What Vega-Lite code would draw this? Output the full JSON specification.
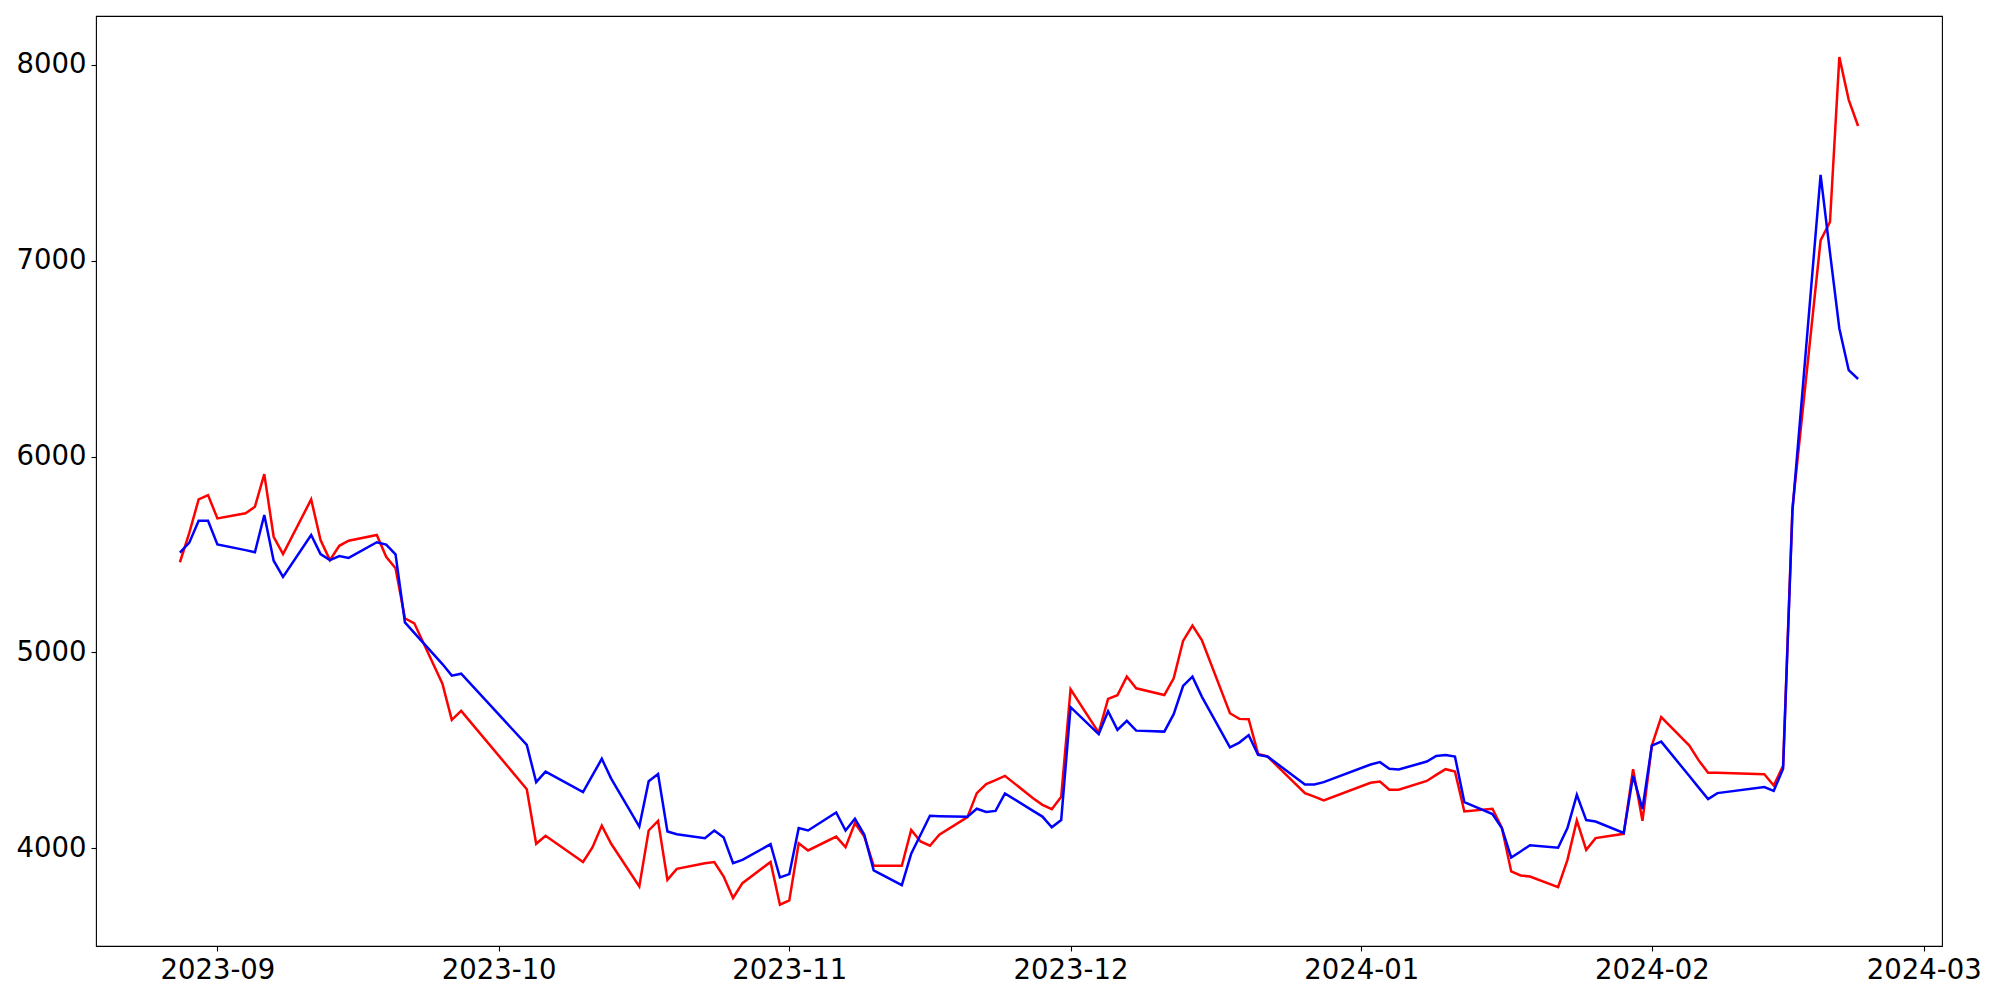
{
  "$schema": "https://vega.github.io/schema/vega-lite/v6.json",
  "width": 1846,
  "height": 930,
  "autosize": "none",
  "padding": {"left": 96, "top": 16, "right": 58, "bottom": 54},
  "background": "white",
  "config": {
    "view": {"stroke": "black", "strokeWidth": 1.1},
    "axis": {
      "domain": false,
      "grid": false,
      "ticks": true,
      "tickSize": 5,
      "tickWidth": 1.1,
      "tickColor": "black",
      "labelFont": "DejaVu Sans",
      "labelFontSize": 27.5,
      "labelColor": "black",
      "labelPadding": 5,
      "title": null
    }
  },
  "data": {
    "values": [
      {"date": "2023-08-28", "red": 5460, "blue": 5509},
      {"date": "2023-08-29", "red": 5610, "blue": 5560},
      {"date": "2023-08-30", "red": 5781, "blue": 5672},
      {"date": "2023-08-31", "red": 5803, "blue": 5672},
      {"date": "2023-09-01", "red": 5684, "blue": 5551},
      {"date": "2023-09-04", "red": 5710, "blue": 5522},
      {"date": "2023-09-05", "red": 5743, "blue": 5511},
      {"date": "2023-09-06", "red": 5910, "blue": 5701},
      {"date": "2023-09-07", "red": 5590, "blue": 5468},
      {"date": "2023-09-08", "red": 5502, "blue": 5385},
      {"date": "2023-09-11", "red": 5781, "blue": 5599},
      {"date": "2023-09-12", "red": 5573, "blue": 5502},
      {"date": "2023-09-13", "red": 5471, "blue": 5471},
      {"date": "2023-09-14", "red": 5544, "blue": 5492},
      {"date": "2023-09-15", "red": 5570, "blue": 5482},
      {"date": "2023-09-18", "red": 5599, "blue": 5562},
      {"date": "2023-09-19", "red": 5488, "blue": 5550},
      {"date": "2023-09-20", "red": 5429, "blue": 5500},
      {"date": "2023-09-21", "red": 5174, "blue": 5153},
      {"date": "2023-09-22", "red": 5148, "blue": 5099},
      {"date": "2023-09-25", "red": 4840, "blue": 4940},
      {"date": "2023-09-26", "red": 4655, "blue": 4881},
      {"date": "2023-09-27", "red": 4701, "blue": 4891},
      {"date": "2023-10-04", "red": 4301, "blue": 4527},
      {"date": "2023-10-05", "red": 4022, "blue": 4337},
      {"date": "2023-10-06", "red": 4063, "blue": 4391},
      {"date": "2023-10-10", "red": 3929, "blue": 4286},
      {"date": "2023-10-11", "red": 4003, "blue": 4371},
      {"date": "2023-10-12", "red": 4115, "blue": 4456},
      {"date": "2023-10-13", "red": 4022, "blue": 4355},
      {"date": "2023-10-16", "red": 3804, "blue": 4110},
      {"date": "2023-10-17", "red": 4090, "blue": 4342},
      {"date": "2023-10-18", "red": 4139, "blue": 4378},
      {"date": "2023-10-19", "red": 3838, "blue": 4085},
      {"date": "2023-10-20", "red": 3894, "blue": 4071},
      {"date": "2023-10-23", "red": 3923, "blue": 4051},
      {"date": "2023-10-24", "red": 3929, "blue": 4090},
      {"date": "2023-10-25", "red": 3855, "blue": 4054},
      {"date": "2023-10-26", "red": 3745, "blue": 3923},
      {"date": "2023-10-27", "red": 3821, "blue": 3940},
      {"date": "2023-10-30", "red": 3929, "blue": 4020},
      {"date": "2023-10-31", "red": 3711, "blue": 3850},
      {"date": "2023-11-01", "red": 3733, "blue": 3867},
      {"date": "2023-11-02", "red": 4025, "blue": 4102},
      {"date": "2023-11-03", "red": 3988, "blue": 4090},
      {"date": "2023-11-06", "red": 4059, "blue": 4182},
      {"date": "2023-11-07", "red": 4005, "blue": 4090},
      {"date": "2023-11-08", "red": 4128, "blue": 4150},
      {"date": "2023-11-09", "red": 4059, "blue": 4068},
      {"date": "2023-11-10", "red": 3910, "blue": 3886},
      {"date": "2023-11-13", "red": 3910, "blue": 3811},
      {"date": "2023-11-14", "red": 4093, "blue": 3971},
      {"date": "2023-11-15", "red": 4034, "blue": 4068},
      {"date": "2023-11-16", "red": 4012, "blue": 4165},
      {"date": "2023-11-17", "red": 4068, "blue": 4163},
      {"date": "2023-11-20", "red": 4158, "blue": 4160},
      {"date": "2023-11-21", "red": 4281, "blue": 4201},
      {"date": "2023-11-22", "red": 4327, "blue": 4185},
      {"date": "2023-11-23", "red": 4347, "blue": 4190},
      {"date": "2023-11-24", "red": 4369, "blue": 4279},
      {"date": "2023-11-27", "red": 4255, "blue": 4190},
      {"date": "2023-11-28", "red": 4221, "blue": 4161},
      {"date": "2023-11-29", "red": 4199, "blue": 4106},
      {"date": "2023-11-30", "red": 4262, "blue": 4143},
      {"date": "2023-12-01", "red": 4811, "blue": 4720},
      {"date": "2023-12-04", "red": 4590, "blue": 4582},
      {"date": "2023-12-05", "red": 4762, "blue": 4699},
      {"date": "2023-12-06", "red": 4781, "blue": 4604},
      {"date": "2023-12-07", "red": 4876, "blue": 4650},
      {"date": "2023-12-08", "red": 4816, "blue": 4600},
      {"date": "2023-12-11", "red": 4782, "blue": 4595},
      {"date": "2023-12-12", "red": 4867, "blue": 4684},
      {"date": "2023-12-13", "red": 5058, "blue": 4828},
      {"date": "2023-12-14", "red": 5136, "blue": 4876},
      {"date": "2023-12-15", "red": 5063, "blue": 4774},
      {"date": "2023-12-18", "red": 4689, "blue": 4515},
      {"date": "2023-12-19", "red": 4660, "blue": 4539},
      {"date": "2023-12-20", "red": 4658, "blue": 4577},
      {"date": "2023-12-21", "red": 4481, "blue": 4476},
      {"date": "2023-12-22", "red": 4468, "blue": 4468},
      {"date": "2023-12-26", "red": 4281, "blue": 4325},
      {"date": "2023-12-27", "red": 4263, "blue": 4325},
      {"date": "2023-12-28", "red": 4243, "blue": 4337},
      {"date": "2024-01-02", "red": 4334, "blue": 4427},
      {"date": "2024-01-03", "red": 4340, "blue": 4439},
      {"date": "2024-01-04", "red": 4298, "blue": 4405},
      {"date": "2024-01-05", "red": 4298, "blue": 4402},
      {"date": "2024-01-08", "red": 4343, "blue": 4442},
      {"date": "2024-01-09", "red": 4374, "blue": 4471},
      {"date": "2024-01-10", "red": 4403, "blue": 4476},
      {"date": "2024-01-11", "red": 4391, "blue": 4468},
      {"date": "2024-01-12", "red": 4187, "blue": 4235},
      {"date": "2024-01-15", "red": 4201, "blue": 4174},
      {"date": "2024-01-16", "red": 4105, "blue": 4102},
      {"date": "2024-01-17", "red": 3881, "blue": 3952},
      {"date": "2024-01-18", "red": 3860, "blue": 3983},
      {"date": "2024-01-19", "red": 3855, "blue": 4015},
      {"date": "2024-01-22", "red": 3801, "blue": 4002},
      {"date": "2024-01-23", "red": 3940, "blue": 4102},
      {"date": "2024-01-24", "red": 4141, "blue": 4272},
      {"date": "2024-01-25", "red": 3991, "blue": 4143},
      {"date": "2024-01-26", "red": 4051, "blue": 4136},
      {"date": "2024-01-29", "red": 4073, "blue": 4077},
      {"date": "2024-01-30", "red": 4403, "blue": 4369},
      {"date": "2024-01-31", "red": 4139, "blue": 4200},
      {"date": "2024-02-01", "red": 4524, "blue": 4524},
      {"date": "2024-02-02", "red": 4669, "blue": 4544},
      {"date": "2024-02-05", "red": 4524, "blue": 4368},
      {"date": "2024-02-06", "red": 4448, "blue": 4309},
      {"date": "2024-02-07", "red": 4385, "blue": 4250},
      {"date": "2024-02-08", "red": 4385, "blue": 4281},
      {"date": "2024-02-13", "red": 4377, "blue": 4312},
      {"date": "2024-02-14", "red": 4320, "blue": 4292},
      {"date": "2024-02-15", "red": 4420, "blue": 4405},
      {"date": "2024-02-16", "red": 5738, "blue": 5723},
      {"date": "2024-02-19", "red": 7104, "blue": 7439},
      {"date": "2024-02-20", "red": 7198, "blue": 7042},
      {"date": "2024-02-21", "red": 8040, "blue": 6654},
      {"date": "2024-02-22", "red": 7822, "blue": 6441},
      {"date": "2024-02-23", "red": 7688, "blue": 6396}
    ]
  },
  "encoding": {
    "x": {
      "field": "date",
      "type": "temporal",
      "scale": {
        "type": "utc",
        "domain": [
          {"year": 2023, "month": 8, "date": 19, "hours": 1, "minutes": 12, "utc": true},
          {"year": 2024, "month": 3, "date": 2, "hours": 22, "minutes": 48, "utc": true}
        ]
      },
      "axis": {
        "format": "%Y-%m",
        "values": [
          {"year": 2023, "month": 9, "date": 1, "utc": true},
          {"year": 2023, "month": 10, "date": 1, "utc": true},
          {"year": 2023, "month": 11, "date": 1, "utc": true},
          {"year": 2023, "month": 12, "date": 1, "utc": true},
          {"year": 2024, "month": 1, "date": 1, "utc": true},
          {"year": 2024, "month": 2, "date": 1, "utc": true},
          {"year": 2024, "month": 3, "date": 1, "utc": true}
        ],
        "labelAngle": 0,
        "labelFlush": false,
        "labelOverlap": false
      }
    }
  },
  "layer": [
    {
      "mark": {"type": "line", "color": "#ff0000", "strokeWidth": 2.5},
      "encoding": {
        "y": {
          "field": "red",
          "type": "quantitative",
          "scale": {"domain": [3500, 8250], "nice": false, "zero": false},
          "axis": {"values": [4000, 5000, 6000, 7000, 8000], "format": "d", "title": null}
        }
      }
    },
    {
      "mark": {"type": "line", "color": "#0000ff", "strokeWidth": 2.5},
      "encoding": {
        "y": {
          "field": "blue",
          "type": "quantitative",
          "axis": {"values": [4000, 5000, 6000, 7000, 8000], "format": "d", "title": null}
        }
      }
    }
  ]
}
